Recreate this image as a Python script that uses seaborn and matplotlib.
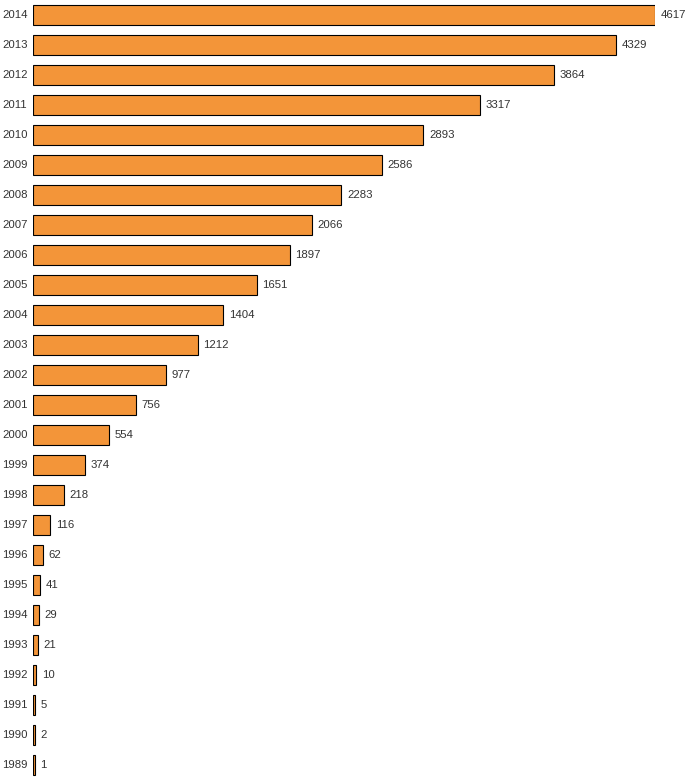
import matplotlib
matplotlib.use("Agg")
import matplotlib.pyplot as plt
import seaborn as sns
import pandas as pd

years = ["2014", "2013", "2012", "2011", "2010", "2009", "2008", "2007", "2006", "2005",
         "2004", "2003", "2002", "2001", "2000", "1999", "1998", "1997", "1996", "1995",
         "1994", "1993", "1992", "1991", "1990", "1989"]
values = [4617, 4329, 3864, 3317, 2893, 2586, 2283, 2066, 1897, 1651,
          1404, 1212, 977, 756, 554, 374, 218, 116, 62, 41,
          29, 21, 10, 5, 2, 1]

df = pd.DataFrame({"year": years, "value": values})

sns.set_theme(style="white")
plt.rcParams["font.family"] = ["Liberation Sans", "DejaVu Sans"]

W, H = 691, 778
fig = plt.figure(figsize=(W / 100, H / 100), dpi=100)
x0, x1 = 33, 655
extra = 1.8  # px added to every bar (stroke drawn outside)
ax = fig.add_axes([x0 / W, 0, (x1 - x0) / W, 1])

sns.barplot(data=df, x="value", y="year", order=years, orient="h",
            color="#F39539", saturation=1, width=20 / 30,
            edgecolor="black", linewidth=0.8, ax=ax)

vmax = max(values)
# data units per pixel so that the widest bar (+extra) ends at x1
px = vmax / (x1 - x0 - extra)
ax.set_xlim(0, vmax + extra * px)
ax.set_ylim(-0.5 + H / 30, -0.5)
ax.axis("off")

for p in ax.patches:
    p.set_width(p.get_width() + extra * px)

for i, (y, v) in enumerate(zip(years, values)):
    ax.text(v + (extra + 5.5) * px, i, str(v), va="center", ha="left", fontsize=8.2,
            color="#333333", clip_on=False)
    ax.text(-31 * px, i, y, va="center", ha="left", fontsize=8.2,
            color="#333333", clip_on=False)

fig.savefig("out.png", dpi=100)
